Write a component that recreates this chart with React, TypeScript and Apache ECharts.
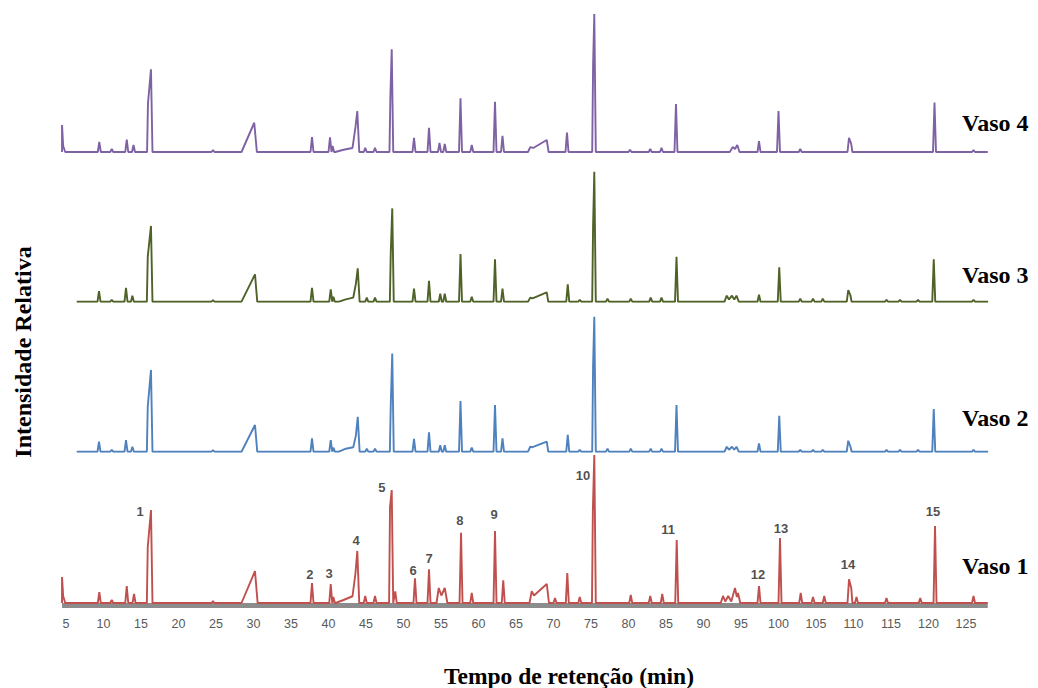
import React, { useEffect, useRef } from "react";
import * as echarts from "echarts";

// ---- data (retention time in min, relative intensity) ----
const xTickLabels = ["5","10","15","20","25","30","35","40","45","50","55","60","65","70","75","80","85","90","95","100","105","110","115","120","125"];
const vasoNames = ["Vaso 4", "Vaso 3", "Vaso 2", "Vaso 1"];
const vasoColors = ["#7E62A3", "#4F6228", "#4F81BD", "#C0504D"];
const traceStart = [4.47, 6.43, 6.43, 4.47];
const traceEnd = [127.9, 127.95, 127.95, 127.9];

// peaks: [rt, height] or [rt, height, shoulderRt, shoulderHeight]
const vaso4Peaks = [
  [9.44, 6.7],[11.1, 2],[13.1, 8.3],[14.0, 4.7],[16.33, 55.1, 15.93, 32.5],[24.6, 1.3],
  [37.8, 10],[40.2, 9.8],[40.55, 4],[44.9, 2.7],[46.2, 2.7],[48.43, 68.5, 48.25, 36.7],
  [51.4, 9.5],[53.4, 16.2],[54.8, 6],[55.5, 5.3],[57.6, 35.8],[59.1, 4.7],[62.2, 33.5],[63.2, 10.7],
  [71.8, 12.9],[75.44, 92, 75.28, 58],[80.2, 1.5],[82.9, 2],[84.4, 2.7],[86.33, 32],
  [97.4, 7.3],[100.0, 27.3],[102.9, 2],[109.4, 9.5, 109.7, 5.3],[120.8, 32.9],[126.0, 1.3]
];
const vaso4Shapes = [
  [[4.47, 18],[4.62, 4],[4.9, 0]],
  [[28.4, 0],[30.1, 19.5],[30.45, 0]],
  [[40.9, 0],[42, 1.5],[43.2, 2.7],[43.6, 16.7],[43.84, 27.3],[44.1, 0]],
  [[66.6, 0],[66.9, 3.3],[67.3, 2.7],[69.1, 8],[69.35, 0]],
  [[93.5, 0],[93.9, 3.3],[94.2, 2],[94.5, 4.7],[94.8, 0]]
];

const vaso3Peaks = [
  [9.4, 7.1],[11.1, 1.3],[13.0, 9.3],[13.85, 4],[16.33, 50.5, 15.9, 30],[24.6, 1],
  [37.8, 9.3],[40.3, 8.2],[40.65, 3.3],[45.1, 2.7],[46.2, 2.7],[48.5, 62.2, 48.3, 32.2],
  [51.4, 8.7],[53.4, 14],[54.9, 5.3],[55.5, 5.3],[57.6, 31.8],[59.1, 3.3],[62.2, 28.2],[63.2, 8.7],
  [71.9, 11.5],[73.5, 1.3],[75.44, 86.7, 75.28, 51],[77.2, 2],[80.3, 2],[82.96, 2.7],[84.4, 2.7],[86.4, 30],
  [97.4, 4.7],[100.1, 22.9],[102.9, 2],[104.6, 2],[105.9, 2],[109.3, 7.8, 109.6, 4],[114.4, 1.3],[116.2, 1.3],[118.6, 1.3],[120.7, 28.2],[126.0, 1.3]
];
const vaso3Shapes = [
  [[28.4, 0],[30.2, 18.2],[30.5, 0]],
  [[41.4, 0],[42.3, 1.5],[43.3, 2.7],[43.65, 12],[43.9, 22.2],[44.15, 0]],
  [[66.6, 0],[66.9, 2.7],[67.2, 2.2],[69.1, 6.2],[69.3, 0]],
  [[92.8, 0],[93.1, 4],[93.4, 1.5],[93.8, 4],[94.1, 1.5],[94.4, 4],[94.7, 0]]
];

const vaso2Peaks = [
  [9.4, 6.7],[11.1, 1.3],[13.0, 7.8],[13.85, 3.3],[16.33, 54.5, 15.9, 30],[24.6, 1],
  [37.8, 8.9],[40.3, 7.8],[40.65, 2.7],[45.1, 2],[46.2, 2],[48.5, 65.5, 48.3, 31],
  [51.4, 8.5],[53.4, 12.9],[54.9, 4.3],[55.5, 4.3],[57.6, 33.8],[59.1, 2.7],[62.2, 31.1],[63.2, 8.9],
  [71.9, 11.3],[73.5, 1.3],[75.44, 90, 75.28, 57.8],[77.2, 2],[80.3, 2],[82.96, 2],[84.4, 2],[86.4, 31.1],
  [97.4, 5.5],[100.1, 24],[102.9, 1.3],[104.6, 1.3],[105.9, 1.3],[109.3, 7.3, 109.6, 3.3],[114.4, 1.3],[116.2, 1.3],[118.6, 1.3],[120.7, 28.5],[126.0, 1.3]
];
const vaso2Shapes = [
  [[28.4, 0],[30.2, 17.8],[30.5, 0]],
  [[41.4, 0],[42.3, 2],[43.3, 3],[43.65, 10.7],[43.9, 23.3],[44.15, 0]],
  [[66.6, 0],[66.9, 3.3],[67.2, 3],[69.1, 6.7],[69.3, 0]],
  [[92.8, 0],[93.1, 3.3],[93.4, 1.3],[93.8, 3.3],[94.1, 1.3],[94.4, 3.3],[94.7, 0]]
];

const vaso1Peaks = [
  [9.44, 7.3],[11.1, 2],[13.1, 11.3],[14.07, 6],[16.33, 62, 15.9, 37.3],[24.6, 1.3],
  [37.8, 13.3],[40.3, 12.7],[40.65, 4],[44.9, 4.7],[46.2, 4.7],[48.43, 75.3, 48.2, 64],[48.9, 7.8],
  [51.53, 16.5],[53.4, 22.5],[57.67, 46.9],[59.1, 6.7],[62.2, 48],[63.3, 15.1],
  [70.2, 3.3],[71.84, 20],[73.5, 4],[75.44, 98.7, 75.25, 62],[80.3, 5.3],[82.9, 4.7],[84.5, 6],[86.43, 42],
  [97.4, 11.3],[100.2, 43.3],[102.96, 6.7],[104.6, 4],[106.1, 4.7],[109.4, 15.8, 109.7, 10],[110.4, 4],[114.4, 3.3],[118.9, 3.3],[120.87, 51.3],[126.0, 4.7]
];
const vaso1Shapes = [
  [[4.47, 17.3],[4.62, 4.7],[4.9, 0]],
  [[28.4, 0],[30.2, 21.3],[30.55, 0]],
  [[40.95, 0],[42, 2],[43.2, 4.5],[43.6, 20],[43.84, 34.7],[44.1, 0]],
  [[54.4, 0],[54.7, 10],[55.05, 5],[55.5, 10],[55.85, 0]],
  [[66.8, 0],[67.1, 7.8],[67.4, 5],[69.1, 12.7],[69.4, 0]],
  [[92.3, 0],[92.6, 4.7],[92.9, 1],[93.3, 4.7],[93.7, 1],[94.2, 10],[94.45, 4],[94.6, 6.7],[94.9, 0]]
];

// numbered peaks of Vaso 1 (label anchor in data units)
const peakNumbers = ["1","2","3","4","5","6","7","8","9","10","11","12","13","14","15"];
const peakLabelRt = [14.87, 37.53, 40.07, 43.67, 47.13, 51.27, 53.4, 57.53, 62.07, 73.93, 85.27, 97.27, 100.33, 109.27, 120.6];
const peakLabelY = [60.7, 18.7, 20, 42, 76.7, 22, 30, 54.7, 59.3, 85.3, 49.3, 19.3, 50, 26, 61.3];

const allPeaks = [vaso4Peaks, vaso3Peaks, vaso2Peaks, vaso1Peaks];
const allShapes = [vaso4Shapes, vaso3Shapes, vaso2Shapes, vaso1Shapes];

function peakPoints(p: number[]): number[][] {
  const w = 0.2;
  const [rt, v, sRt, sV] = p;
  if (sRt === undefined) return [[rt - w, 0], [rt, v], [rt + w, 0]];
  if (sRt < rt) return [[sRt - 0.12, 0], [sRt, sV], [rt, v], [rt + w, 0]];
  return [[rt - w, 0], [rt, v], [sRt, sV], [sRt + 0.15, 0]];
}

function buildTrace(i: number): number[][] {
  const feats: number[][][] = allPeaks[i].map(peakPoints).concat(allShapes[i] as number[][][]);
  feats.sort((a, b) => a[0][0] - b[0][0]);
  const pts: number[][] = [[traceStart[i], 0]];
  feats.forEach((f) => f.forEach((pt) => pts.push(pt)));
  pts.push([traceEnd[i], 0]);
  return pts;
}

export default function App() {
  const ref = useRef<HTMLDivElement>(null);
  useEffect(() => {
    if (!ref.current) return;
    const chart = echarts.init(ref.current, null, { renderer: "svg" });
    const gridTops = [2, 151.7, 301.7, 453];
    const grids = gridTops.map((t, i) => ({
      left: 28.5, width: 975, top: t, height: i === 3 ? 157.5 : 150,
    }));
    const xAxes = gridTops.map((_, i) => ({
      type: "value", gridIndex: i, min: 0, max: 130, interval: 5,
      show: i === 3,
      axisLine: { show: false }, axisTick: { show: false }, splitLine: { show: false },
      axisLabel: {
        show: i === 3, margin: 7, color: "#595959", fontSize: 12.5,
        fontFamily: "Liberation Sans",
        formatter: (v: number) => {
          const s = String(v);
          return xTickLabels.indexOf(s) >= 0 ? s : "";
        },
      },
    }));
    const yAxes = gridTops.map((_, i) => ({
      type: "value", gridIndex: i, min: i === 3 ? -5 : 0, max: 100, show: false,
    }));
    const series: any[] = vasoNames.map((name, i) => ({
      type: "line", name, xAxisIndex: i, yAxisIndex: i, data: buildTrace(i),
      showSymbol: false, symbol: "none", z: 3,
      lineStyle: { color: vasoColors[i], width: 1.9 },
    }));
    series.push({
      type: "line", xAxisIndex: 3, yAxisIndex: 3, z: 1, symbol: "none", showSymbol: false,
      data: [[traceStart[3], -1.7], [traceEnd[3], -1.7]],
      lineStyle: { color: "#8c8c8c", width: 5 },
    });
    series.push({
      type: "scatter", xAxisIndex: 3, yAxisIndex: 3, z: 5, symbolSize: 1,
      itemStyle: { color: "rgba(0,0,0,0)" },
      data: peakNumbers.map((n, k) => ({ name: n, value: [peakLabelRt[k], peakLabelY[k]] })),
      label: {
        show: true, position: "inside", formatter: "{b}", color: "#1e1e1e",
        fontSize: 13, fontWeight: "bold", fontFamily: "Liberation Sans",
      },
    });
    const vasoY = [123, 275, 418, 566];
    const graphic: any[] = vasoNames.map((n, i) => ({
      type: "text", x: 962, y: vasoY[i],
      style: { text: n, fontSize: 24, fontWeight: "bold", fontFamily: "Liberation Serif", fill: "#000", textAlign: "left", textVerticalAlign: "middle" },
    }));
    graphic.push({
      type: "text", x: 569, y: 676,
      style: { text: "Tempo de retenção (min)", fontSize: 23.5, fontWeight: "bold", fontFamily: "Liberation Serif", fill: "#000", textAlign: "center", textVerticalAlign: "middle" },
    });
    graphic.push({
      type: "text", x: 23, y: 352, rotation: Math.PI / 2,
      style: { text: "Intensidade Relativa", fontSize: 24, fontWeight: "bold", fontFamily: "Liberation Serif", fill: "#000", textAlign: "center", textVerticalAlign: "middle" },
    });
    chart.setOption({
      animation: false,
      backgroundColor: "#ffffff",
      grid: grids, xAxis: xAxes, yAxis: yAxes, series, graphic,
    });
    return () => chart.dispose();
  }, []);
  return <div ref={ref} style={{ position: "fixed", left: 0, top: 0, width: 1038, height: 688 }} />;
}
